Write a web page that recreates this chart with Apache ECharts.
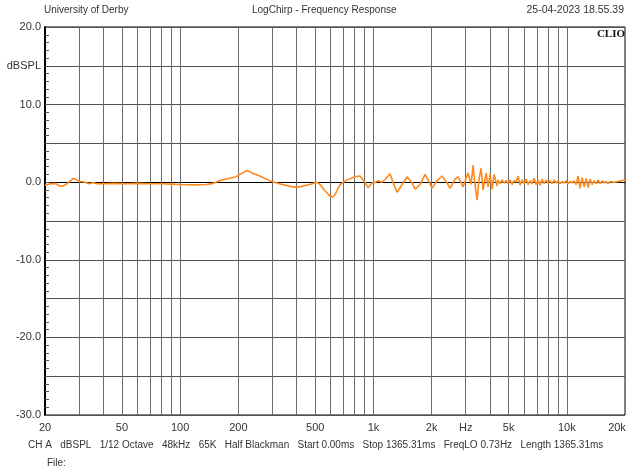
<!DOCTYPE html>
<html>
<head>
<meta charset="utf-8">
<script src="https://cdn.jsdelivr.net/npm/echarts@6/dist/echarts.min.js"></script>
<style>html,body{margin:0;padding:0;background:#fff}#c{width:627px;height:471px}</style>
</head>
<body>
<div id="c"></div>
<script>
// Frequency (Hz)
var freq = [20,21.2,22.6,23.9,24.8,26,28,29.2,30.3,31.5,33,34.1,35.4,37,40,45,53,60,70,81,90,100,120,137,148,160,180,195,210,222,235,258,290,326,380,416,468,509,530,560,596,615,632,672,
730,803,852,904,938,984,1019,1056,1108,1148,1218,1262,1324,1406,1492,1584,1642,1742,1849,1916,2010,2133,2264,2403,2490,2643,2740,2908,3014,3086,3198,3276,3334,3436,3518,3602,3690,3824,3916,4010,4108,4206,4358,4410,
4518,4627,4738,4853,4970,5090,5212,5338,5467,5599,5734,5872,6013,6158,6307,6459,6614,6774,6937,7104,7276,7451,7631,7815,8003,8196,8394,8596,8804,9016,9233,9456,9684,9917,10156,10401,10652,10909,11172,11441,11717,11999,12289,12585,12888,13199,13517,13843,14177,14519,14869,15227,15594,15970,16355,16750,17153,17567,17990,18424,18868,19323,19789,20000];
// Level (dBSPL)
var level = [-0.4,-0.2,-0.15,-0.5,-0.5,-0.2,0.5,0.3,0.1,0.05,-0.1,-0.2,-0.05,-0.2,-0.2,-0.15,-0.2,-0.15,-0.2,-0.2,-0.25,-0.3,-0.35,-0.3,-0.15,0.2,0.5,0.7,1.2,1.5,1.2,0.8,0.2,-0.2,-0.6,-0.6,-0.3,0,-0.3,-1.1,-1.8,-1.9,-1.6,-0.3,
0.3,0.7,0.8,-0.05,-0.7,-0.1,-0.05,0.2,0,0.35,1.1,-0.05,-1.3,-0.3,0.7,-0.1,-0.9,-0.3,1.0,0.3,-0.8,0.2,0.8,-0.1,-0.8,0.4,0.7,-0.6,0.5,1.2,-0.3,2.2,0.1,-2.3,0.4,1.8,-1.0,1.2,-0.6,1.0,-0.9,1.0,-0.5,0.3,
-0.2,0.3,-0.1,0.2,-0.2,0.3,-0.3,0.2,0,0.8,-0.4,0.3,-0.2,0.4,-0.3,0.2,-0.2,0.5,-0.3,0.3,-0.4,0.4,-0.2,0.3,-0.1,0.2,-0.2,0.3,-0.1,0.2,-0.2,0.1,-0.1,0.2,-0.2,0.1,-0.1,0.2,-0.3,0.8,-0.8,0.6,-0.6,0.5,-0.7,0.4,-0.3,0.2,-0.2,0.3,-0.2,0.2,-0.1,0.1,-0.2,0.1,-0.1,0,-0.1,0.1,-0.1,0.2,0.3,0.3];
// Vertical grid frequencies
var gridFreqs = [30,40,50,60,70,80,90,100,200,300,400,500,600,700,800,900,1000,2000,3000,4000,5000,6000,7000,8000,9000,10000];
// X tick labels
var xTickFreqs = [20,50,100,200,500,1000,2000,3000,5000,10000,20000];
var xTickLabels = ['20','50','100','200','500','1k','2k','Hz','5k','10k','20k'];
// Y tick labels
var yTickValues = [20,15,10,0,-10,-20,-30];
var yTickLabels = ['20.0','dBSPL','10.0','0.0','-10.0','-20.0','-30.0'];

var FONT = 'Liberation Sans, Arial, sans-serif';
var pts = freq.map(function(f,i){return [f, level[i]];});

var mlData = [];
gridFreqs.forEach(function(f){
  var idx = xTickFreqs.indexOf(f);
  mlData.push({xAxis:f, lineStyle:{color:'#6a6a6a',width:1,type:'solid'},
    label:{show: idx>=0, formatter: idx>=0 ? xTickLabels[idx] : ''}});
});
mlData.push({xAxis:20, lineStyle:{color:'rgba(0,0,0,0)',width:1}, label:{show:true, formatter:xTickLabels[0]}});
mlData.push({xAxis:20000, lineStyle:{color:'rgba(0,0,0,0)',width:1}, label:{show:true, formatter:xTickLabels[xTickLabels.length-1], offset:[-8,0]}});

var chart = echarts.init(document.getElementById('c'), null, {renderer:'canvas'});
chart.setOption({
  animation:false,
  backgroundColor:'#fff',
  grid:{left:45,right:2,top:27,bottom:56,show:true,borderColor:'#000',borderWidth:1},
  xAxis:{type:'log',logBase:10,min:20,max:20000,
    axisLine:{show:true,lineStyle:{color:'#000',width:1}},
    axisTick:{show:false},axisLabel:{show:false},splitLine:{show:false},minorSplitLine:{show:false}},
  yAxis:{type:'value',min:-30,max:20,interval:5,
    axisLine:{show:true,onZero:false,lineStyle:{color:'#000',width:2}},
    axisTick:{show:true,inside:true,length:5,lineStyle:{color:'#555'}},
    minorTick:{show:true,splitNumber:5,length:4,lineStyle:{color:'#555'}},
    splitLine:{show:true,lineStyle:{color:'#505050',width:1}},
    axisLabel:{color:'#333',fontSize:11,fontFamily:FONT,margin:4,
      formatter:function(v){var i=yTickValues.indexOf(v);return i>=0?yTickLabels[i]:'';}}},
  graphic:[
    {type:'text',left:44,top:5,style:{text:'University of Derby',fill:'#333',font:'10px '+FONT}},
    {type:'text',left:252,top:5,style:{text:'LogChirp - Frequency Response',fill:'#333',font:'10px '+FONT}},
    {type:'text',right:3,top:5,style:{text:'25-04-2023 18.55.39',fill:'#333',font:'10.5px '+FONT}},
    {type:'text',right:2,top:29,style:{text:'CLIO',fill:'#111',font:'bold 11px Liberation Serif, Times New Roman, serif'}},
    {type:'text',left:28,top:440,style:{text:'CH A   dBSPL   1/12 Octave   48kHz   65K   Half Blackman   Start 0.00ms   Stop 1365.31ms   FreqLO 0.73Hz   Length 1365.31ms',fill:'#333',font:'10px '+FONT}},
    {type:'text',left:47,top:458,style:{text:'File:',fill:'#333',font:'10px '+FONT}}
  ],
  series:[{
    type:'line',data:pts,showSymbol:false,smooth:false,
    lineStyle:{color:'#ff8a1c',width:1.6},
    z:5,
    markLine:{silent:true,symbol:'none',animation:false,z:1,
      label:{position:'start',distance:7,color:'#333',fontSize:11,fontFamily:FONT},
      data:mlData}
  }]
});
</script>
</body>
</html>
